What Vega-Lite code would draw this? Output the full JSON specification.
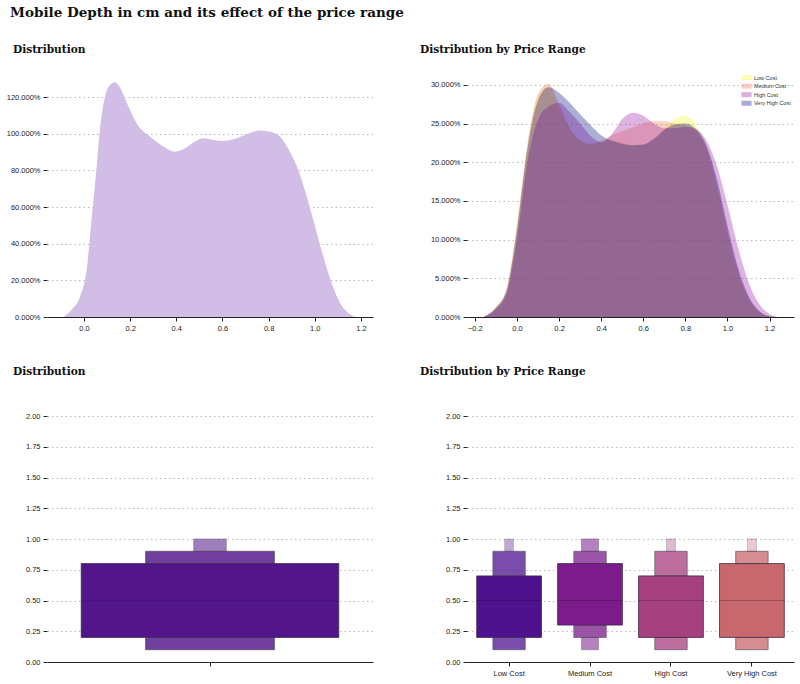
{
  "$schema": "https://vega.github.io/schema/vega-lite/v6.json",
  "padding": {"left": 6, "top": 5, "right": 5, "bottom": 5},
  "background": "white",
  "title": {
    "text": "Mobile Depth in cm and its effect of the price range",
    "anchor": "start",
    "frame": "group",
    "font": "DejaVu Serif",
    "fontWeight": "bold",
    "fontSize": 13.5,
    "color": "#111111",
    "dx": -37,
    "offset": 26
  },
  "columns": 2,
  "bounds": "flush",
  "spacing": {"row": 99, "column": 94},
  "resolve": {"scale": {"color": "independent", "opacity": "independent"}, "legend": {"color": "independent"}},
  "concat": [
    {
      "width": 326,
      "height": 246,
      "title": {"text": "Distribution", "anchor": "start", "frame": "group", "dx": -34, "offset": 15},
      "data": {
        "values": [
          {"x": -0.09, "d": 0}, {"x": -0.053, "d": 0.04}, {"x": -0.017, "d": 0.11}, {"x": 0.012, "d": 0.26},
          {"x": 0.033, "d": 0.53}, {"x": 0.055, "d": 0.82}, {"x": 0.069, "d": 1.02}, {"x": 0.091, "d": 1.2},
          {"x": 0.113, "d": 1.265}, {"x": 0.134, "d": 1.28}, {"x": 0.156, "d": 1.25}, {"x": 0.192, "d": 1.15},
          {"x": 0.228, "d": 1.057}, {"x": 0.286, "d": 0.984}, {"x": 0.344, "d": 0.93}, {"x": 0.394, "d": 0.902},
          {"x": 0.438, "d": 0.92}, {"x": 0.481, "d": 0.957}, {"x": 0.517, "d": 0.975}, {"x": 0.56, "d": 0.966},
          {"x": 0.604, "d": 0.96}, {"x": 0.647, "d": 0.969}, {"x": 0.705, "d": 0.997}, {"x": 0.762, "d": 1.017},
          {"x": 0.806, "d": 1.011}, {"x": 0.849, "d": 0.984}, {"x": 0.892, "d": 0.902}, {"x": 0.929, "d": 0.8},
          {"x": 0.965, "d": 0.657}, {"x": 1.001, "d": 0.494}, {"x": 1.037, "d": 0.33}, {"x": 1.073, "d": 0.185},
          {"x": 1.109, "d": 0.076}, {"x": 1.145, "d": 0.022}, {"x": 1.174, "d": 0}
        ]
      },
      "mark": {"type": "area", "interpolate": "monotone", "color": "#d1bde6"},
      "encoding": {
        "x": {"field": "x", "type": "quantitative", "scale": {"domain": [-0.16, 1.252], "nice": false, "zero": false},
              "axis": {"values": [0, 0.2, 0.4, 0.6, 0.8, 1.0, 1.2], "format": ".1f", "title": null, "grid": false}},
        "y": {"field": "d", "type": "quantitative", "scale": {"domain": [0, 1.342], "nice": false},
              "axis": {"values": [0, 0.2, 0.4, 0.6, 0.8, 1.0, 1.2], "format": ".3%", "title": null}}
      }
    },
    {
      "width": 327,
      "height": 246,
      "title": {"text": "Distribution by Price Range", "anchor": "start", "frame": "group", "dx": -47, "offset": 15},
      "data": {
        "values": [
          {"p": "Low Cost", "x": -0.16, "d": 0}, {"p": "Low Cost", "x": -0.1, "d": 0.012}, {"p": "Low Cost", "x": -0.05, "d": 0.035},
          {"p": "Low Cost", "x": 0.0, "d": 0.115}, {"p": "Low Cost", "x": 0.05, "d": 0.22}, {"p": "Low Cost", "x": 0.1, "d": 0.285},
          {"p": "Low Cost", "x": 0.15, "d": 0.298}, {"p": "Low Cost", "x": 0.2, "d": 0.27}, {"p": "Low Cost", "x": 0.25, "d": 0.243},
          {"p": "Low Cost", "x": 0.3, "d": 0.228}, {"p": "Low Cost", "x": 0.35, "d": 0.222}, {"p": "Low Cost", "x": 0.4, "d": 0.226},
          {"p": "Low Cost", "x": 0.45, "d": 0.228}, {"p": "Low Cost", "x": 0.5, "d": 0.226}, {"p": "Low Cost", "x": 0.55, "d": 0.222},
          {"p": "Low Cost", "x": 0.6, "d": 0.222}, {"p": "Low Cost", "x": 0.65, "d": 0.23}, {"p": "Low Cost", "x": 0.7, "d": 0.243},
          {"p": "Low Cost", "x": 0.75, "d": 0.256}, {"p": "Low Cost", "x": 0.8, "d": 0.26}, {"p": "Low Cost", "x": 0.85, "d": 0.248},
          {"p": "Low Cost", "x": 0.9, "d": 0.218}, {"p": "Low Cost", "x": 0.95, "d": 0.165}, {"p": "Low Cost", "x": 1.0, "d": 0.105},
          {"p": "Low Cost", "x": 1.05, "d": 0.055}, {"p": "Low Cost", "x": 1.1, "d": 0.022}, {"p": "Low Cost", "x": 1.15, "d": 0.006},
          {"p": "Low Cost", "x": 1.2, "d": 0.001}, {"p": "Low Cost", "x": 1.23, "d": 0},

          {"p": "Medium Cost", "x": -0.16, "d": 0}, {"p": "Medium Cost", "x": -0.1, "d": 0.013}, {"p": "Medium Cost", "x": -0.05, "d": 0.036},
          {"p": "Medium Cost", "x": 0.0, "d": 0.12}, {"p": "Medium Cost", "x": 0.05, "d": 0.225}, {"p": "Medium Cost", "x": 0.1, "d": 0.288},
          {"p": "Medium Cost", "x": 0.15, "d": 0.302}, {"p": "Medium Cost", "x": 0.2, "d": 0.275}, {"p": "Medium Cost", "x": 0.25, "d": 0.245},
          {"p": "Medium Cost", "x": 0.3, "d": 0.228}, {"p": "Medium Cost", "x": 0.35, "d": 0.224}, {"p": "Medium Cost", "x": 0.4, "d": 0.228},
          {"p": "Medium Cost", "x": 0.45, "d": 0.235}, {"p": "Medium Cost", "x": 0.5, "d": 0.24}, {"p": "Medium Cost", "x": 0.55, "d": 0.245},
          {"p": "Medium Cost", "x": 0.6, "d": 0.25}, {"p": "Medium Cost", "x": 0.65, "d": 0.253}, {"p": "Medium Cost", "x": 0.7, "d": 0.253},
          {"p": "Medium Cost", "x": 0.75, "d": 0.25}, {"p": "Medium Cost", "x": 0.8, "d": 0.248}, {"p": "Medium Cost", "x": 0.85, "d": 0.24},
          {"p": "Medium Cost", "x": 0.9, "d": 0.218}, {"p": "Medium Cost", "x": 0.95, "d": 0.172}, {"p": "Medium Cost", "x": 1.0, "d": 0.112},
          {"p": "Medium Cost", "x": 1.05, "d": 0.06}, {"p": "Medium Cost", "x": 1.1, "d": 0.025}, {"p": "Medium Cost", "x": 1.15, "d": 0.007},
          {"p": "Medium Cost", "x": 1.2, "d": 0.001}, {"p": "Medium Cost", "x": 1.23, "d": 0},

          {"p": "High Cost", "x": -0.16, "d": 0}, {"p": "High Cost", "x": -0.1, "d": 0.01}, {"p": "High Cost", "x": -0.05, "d": 0.03},
          {"p": "High Cost", "x": 0.0, "d": 0.1}, {"p": "High Cost", "x": 0.05, "d": 0.2}, {"p": "High Cost", "x": 0.1, "d": 0.255},
          {"p": "High Cost", "x": 0.15, "d": 0.272}, {"p": "High Cost", "x": 0.2, "d": 0.277}, {"p": "High Cost", "x": 0.25, "d": 0.265},
          {"p": "High Cost", "x": 0.3, "d": 0.25}, {"p": "High Cost", "x": 0.35, "d": 0.234}, {"p": "High Cost", "x": 0.4, "d": 0.226},
          {"p": "High Cost", "x": 0.45, "d": 0.236}, {"p": "High Cost", "x": 0.5, "d": 0.256}, {"p": "High Cost", "x": 0.55, "d": 0.264},
          {"p": "High Cost", "x": 0.6, "d": 0.26}, {"p": "High Cost", "x": 0.65, "d": 0.25}, {"p": "High Cost", "x": 0.7, "d": 0.244},
          {"p": "High Cost", "x": 0.75, "d": 0.244}, {"p": "High Cost", "x": 0.8, "d": 0.246}, {"p": "High Cost", "x": 0.85, "d": 0.243},
          {"p": "High Cost", "x": 0.9, "d": 0.228}, {"p": "High Cost", "x": 0.95, "d": 0.195}, {"p": "High Cost", "x": 1.0, "d": 0.145},
          {"p": "High Cost", "x": 1.05, "d": 0.09}, {"p": "High Cost", "x": 1.1, "d": 0.045}, {"p": "High Cost", "x": 1.15, "d": 0.017},
          {"p": "High Cost", "x": 1.2, "d": 0.004}, {"p": "High Cost", "x": 1.24, "d": 0},

          {"p": "Very High Cost", "x": -0.16, "d": 0}, {"p": "Very High Cost", "x": -0.1, "d": 0.012}, {"p": "Very High Cost", "x": -0.05, "d": 0.034},
          {"p": "Very High Cost", "x": 0.0, "d": 0.113}, {"p": "Very High Cost", "x": 0.05, "d": 0.218}, {"p": "Very High Cost", "x": 0.1, "d": 0.28},
          {"p": "Very High Cost", "x": 0.15, "d": 0.297}, {"p": "Very High Cost", "x": 0.2, "d": 0.29}, {"p": "Very High Cost", "x": 0.25, "d": 0.277},
          {"p": "Very High Cost", "x": 0.3, "d": 0.262}, {"p": "Very High Cost", "x": 0.35, "d": 0.248}, {"p": "Very High Cost", "x": 0.4, "d": 0.235},
          {"p": "Very High Cost", "x": 0.45, "d": 0.228}, {"p": "Very High Cost", "x": 0.5, "d": 0.224}, {"p": "Very High Cost", "x": 0.55, "d": 0.222},
          {"p": "Very High Cost", "x": 0.6, "d": 0.223}, {"p": "Very High Cost", "x": 0.65, "d": 0.23}, {"p": "Very High Cost", "x": 0.7, "d": 0.242},
          {"p": "Very High Cost", "x": 0.75, "d": 0.249}, {"p": "Very High Cost", "x": 0.8, "d": 0.25}, {"p": "Very High Cost", "x": 0.85, "d": 0.243},
          {"p": "Very High Cost", "x": 0.9, "d": 0.222}, {"p": "Very High Cost", "x": 0.95, "d": 0.178}, {"p": "Very High Cost", "x": 1.0, "d": 0.118},
          {"p": "Very High Cost", "x": 1.05, "d": 0.064}, {"p": "Very High Cost", "x": 1.1, "d": 0.027}, {"p": "Very High Cost", "x": 1.15, "d": 0.008},
          {"p": "Very High Cost", "x": 1.2, "d": 0.001}, {"p": "Very High Cost", "x": 1.23, "d": 0}
        ]
      },
      "mark": {"type": "area", "interpolate": "monotone", "opacity": 0.33},
      "encoding": {
        "x": {"field": "x", "type": "quantitative", "scale": {"domain": [-0.2375, 1.316], "nice": false, "zero": false},
              "axis": {"values": [-0.2, 0, 0.2, 0.4, 0.6, 0.8, 1.0, 1.2], "format": ".1f", "title": null, "grid": false}},
        "y": {"field": "d", "type": "quantitative", "stack": null, "scale": {"domain": [0, 0.318], "nice": false},
              "axis": {"values": [0, 0.05, 0.1, 0.15, 0.2, 0.25, 0.3], "format": ".3%", "title": null}},
        "color": {"field": "p", "type": "nominal",
                  "scale": {"domain": ["Low Cost", "Medium Cost", "High Cost", "Very High Cost"], "range": ["#f0f921", "#ed7953", "#9c179e", "#0d0887"]},
                  "legend": {"title": null, "orient": "top-right", "offset": 3, "padding": 0,
                             "labelFont": "Liberation Sans", "labelFontSize": 5.5, "labelColor": "#333333", "labelOffset": 4,
                             "symbolType": "M-1.6,-0.8H1.6V0.8H-1.6Z", "symbolSize": 40, "symbolOpacity": 0.35, "symbolStrokeWidth": 0,
                             "rowPadding": 1.6}},
        "order": {"field": "p", "sort": "ascending"}
      }
    },
    {
      "width": 326,
      "height": 246,
      "title": {"text": "Distribution", "anchor": "start", "frame": "group", "dx": -34, "offset": 34},
      "data": {
        "values": [
          {"g": "all", "lv": 1, "lo": 0.2, "hi": 0.8},
          {"g": "all", "lv": 2, "lo": 0.1, "hi": 0.2},
          {"g": "all", "lv": 2, "lo": 0.8, "hi": 0.9},
          {"g": "all", "lv": 4, "lo": 0.9, "hi": 1.0},
          {"g": "all", "lv": 0, "lo": 0.5, "hi": 0.5}
        ]
      },
      "encoding": {
        "x": {"field": "g", "type": "nominal", "scale": {"paddingInner": 0, "paddingOuter": 0},
              "axis": {"labels": false, "title": null, "ticks": true}},
        "y": {"field": "lo", "type": "quantitative", "scale": {"domain": [0, 2], "nice": false},
              "axis": {"values": [0, 0.25, 0.5, 0.75, 1.0, 1.25, 1.5, 1.75, 2.0], "format": ".2f", "title": null}},
        "y2": {"field": "hi"}
      },
      "layer": [
        {"transform": [{"filter": "datum.lv == 2"}], "mark": {"type": "bar", "width": {"band": 0.395}, "color": "#52168a", "opacity": 0.82, "stroke": "#3b2a48", "strokeWidth": 0.8}},
        {"transform": [{"filter": "datum.lv == 4"}], "mark": {"type": "bar", "width": {"band": 0.1}, "color": "#52168a", "opacity": 0.55, "stroke": "#3b2a48", "strokeWidth": 0.8}},
        {"transform": [{"filter": "datum.lv == 1"}], "mark": {"type": "bar", "width": {"band": 0.79}, "color": "#52168a", "stroke": "#3b2a48", "strokeWidth": 0.8}},
        {"transform": [{"filter": "datum.lv == 0"}], "mark": {"type": "bar", "width": {"band": 0.79}, "fillOpacity": 0, "stroke": "#000000", "strokeOpacity": 0.06, "strokeWidth": 1}}
      ]
    },
    {
      "width": 327,
      "height": 246,
      "title": {"text": "Distribution by Price Range", "anchor": "start", "frame": "group", "dx": -47, "offset": 34},
      "data": {
        "values": [
          {"p": "Low Cost", "lv": 1, "lo": 0.2, "hi": 0.7},
          {"p": "Low Cost", "lv": 2, "lo": 0.1, "hi": 0.2},
          {"p": "Low Cost", "lv": 2, "lo": 0.7, "hi": 0.9},
          {"p": "Low Cost", "lv": 4, "lo": 0.9, "hi": 1.0},
          {"p": "Medium Cost", "lv": 1, "lo": 0.3, "hi": 0.8},
          {"p": "Medium Cost", "lv": 2, "lo": 0.2, "hi": 0.3},
          {"p": "Medium Cost", "lv": 2, "lo": 0.8, "hi": 0.9},
          {"p": "Medium Cost", "lv": 3, "lo": 0.1, "hi": 0.2},
          {"p": "Medium Cost", "lv": 3, "lo": 0.9, "hi": 1.0},
          {"p": "High Cost", "lv": 1, "lo": 0.2, "hi": 0.7},
          {"p": "High Cost", "lv": 2, "lo": 0.1, "hi": 0.2},
          {"p": "High Cost", "lv": 2, "lo": 0.7, "hi": 0.9},
          {"p": "High Cost", "lv": 4, "lo": 0.9, "hi": 1.0},
          {"p": "Very High Cost", "lv": 1, "lo": 0.2, "hi": 0.8},
          {"p": "Very High Cost", "lv": 2, "lo": 0.1, "hi": 0.2},
          {"p": "Very High Cost", "lv": 2, "lo": 0.8, "hi": 0.9},
          {"p": "Very High Cost", "lv": 4, "lo": 0.9, "hi": 1.0},
          {"p": "Low Cost", "lv": 0, "lo": 0.5, "hi": 0.5},
          {"p": "Medium Cost", "lv": 0, "lo": 0.5, "hi": 0.5},
          {"p": "High Cost", "lv": 0, "lo": 0.5, "hi": 0.5},
          {"p": "Very High Cost", "lv": 0, "lo": 0.5, "hi": 0.5}
        ]
      },
      "encoding": {
        "x": {"field": "p", "type": "nominal", "sort": ["Low Cost", "Medium Cost", "High Cost", "Very High Cost"],
              "scale": {"paddingInner": 0, "paddingOuter": 0.02},
              "axis": {"labelAngle": 0, "title": null, "ticks": true}},
        "y": {"field": "lo", "type": "quantitative", "scale": {"domain": [0, 2], "nice": false},
              "axis": {"values": [0, 0.25, 0.5, 0.75, 1.0, 1.25, 1.5, 1.75, 2.0], "format": ".2f", "title": null}},
        "y2": {"field": "hi"},
        "color": {"field": "p", "type": "nominal", "scale": {"domain": ["Low Cost", "Medium Cost", "High Cost", "Very High Cost"], "range": ["#4e128e", "#7c1c8c", "#a6407e", "#c8686e"]}, "legend": null}
      },
      "layer": [
        {"transform": [{"filter": "datum.lv == 2"}], "mark": {"type": "bar", "width": {"band": 0.4}, "opacity": 0.75, "stroke": "#3b2a48", "strokeWidth": 0.8}},
        {"transform": [{"filter": "datum.lv == 3"}], "mark": {"type": "bar", "width": {"band": 0.21}, "opacity": 0.55, "stroke": "#3b2a48", "strokeWidth": 0.8}},
        {"transform": [{"filter": "datum.lv == 4"}], "mark": {"type": "bar", "width": {"band": 0.11}, "opacity": 0.36, "stroke": "#3b2a48", "strokeWidth": 0.8}},
        {"transform": [{"filter": "datum.lv == 1"}], "mark": {"type": "bar", "width": {"band": 0.8}, "stroke": "#3b2a48", "strokeWidth": 0.8}},
        {"transform": [{"filter": "datum.lv == 0"}], "mark": {"type": "bar", "width": {"band": 0.8}, "fillOpacity": 0, "stroke": "#000000", "strokeOpacity": 0.12, "strokeWidth": 1}}
      ]
    }
  ],
  "config": {
    "view": {"stroke": null},
    "axis": {
      "labelFont": "Liberation Sans", "labelFontSize": 7.5, "labelColor": "#222222",
      "tickColor": "#222222", "tickSize": 4, "tickWidth": 1,
      "domainColor": "#222222", "domainWidth": 1,
      "gridColor": "#aaaaaa", "gridDash": [1.5, 3], "gridWidth": 0.8,
      "labelPadding": 3
    },
    "axisY": {"domain": false, "grid": true},
    "axisX": {"grid": false},
    "title": {"font": "DejaVu Serif", "fontWeight": "bold", "fontSize": 10.6, "color": "#111111", "anchor": "start"}
  }
}
